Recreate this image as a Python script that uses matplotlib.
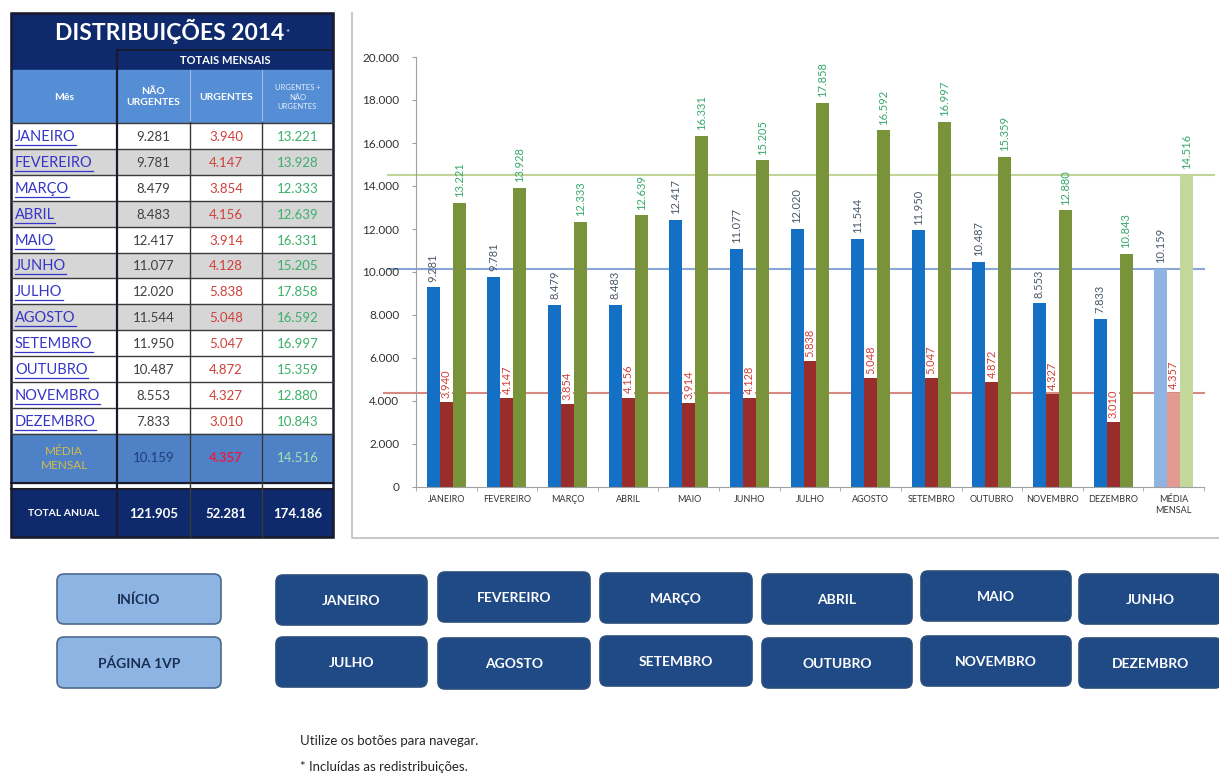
import matplotlib
matplotlib.use("Agg")
import matplotlib.pyplot as plt
import matplotlib.ticker as mticker
from matplotlib.patches import Rectangle, FancyBboxPatch
import numpy as np

plt.rcParams["font.family"] = ["Lato", "DejaVu Sans"]

# ---- data ----
MONTHS = ["JANEIRO", "FEVEREIRO", "MARÇO", "ABRIL", "MAIO", "JUNHO",
          "JULHO", "AGOSTO", "SETEMBRO", "OUTUBRO", "NOVEMBRO", "DEZEMBRO"]
NAO_URGENTES = [9281, 9781, 8479, 8483, 12417, 11077, 12020, 11544, 11950, 10487, 8553, 7833]
URGENTES = [3940, 4147, 3854, 4156, 3914, 4128, 5838, 5048, 5047, 4872, 4327, 3010]
TOTAL = [13221, 13928, 12333, 12639, 16331, 15205, 17858, 16592, 16997, 15359, 12880, 10843]
MEDIA = [10159, 4357, 14516]
TOTAL_ANUAL = [121905, 52281, 174186]
GRAY_ROWS = ["FEVEREIRO", "ABRIL", "JUNHO", "AGOSTO"]

BUTTONS_ROW1 = ["JANEIRO", "FEVEREIRO", "MARÇO", "ABRIL", "MAIO", "JUNHO"]
BUTTONS_ROW2 = ["JULHO", "AGOSTO", "SETEMBRO", "OUTUBRO", "NOVEMBRO", "DEZEMBRO"]
NAV_BUTTONS = ["INÍCIO", "PÁGINA 1VP"]
NOTES = ["Utilize os botões para navegar.", "* Incluídas as redistribuições."]


def fmt(v):
    return f"{v:,.0f}".replace(",", ".")


W, H = 1219, 783
fig = plt.figure(figsize=(W / 100, H / 100), dpi=100)
fig.patch.set_facecolor("white")

# pixel-space canvas for table, buttons and notes
bg = fig.add_axes([0, 0, 1, 1])
bg.set_xlim(0, W)
bg.set_ylim(H, 0)
bg.axis("off")

NAVY = "#0e2a6c"
HEAD = "#558ed5"
LINE = "#3a3a3a"

# ---- table ----
cols = [11, 117, 190, 262, 333]
# title block
bg.add_patch(Rectangle((11, 13), 322, 57, color=NAVY))
bg.text(170, 31, "DISTRIBUIÇÕES 2014", color="white", fontsize=16.5, fontweight="bold",
        ha="center", va="center")
bg.text(285, 34, "*", color="white", fontsize=7, ha="left", va="center")
bg.plot([117, 333], [50, 50], color="#1a1a2a", lw=1.2)
bg.text(225, 60, "TOTAIS MENSAIS", color="white", fontsize=8, fontweight="bold",
        ha="center", va="center")
# header row
bg.add_patch(Rectangle((11, 70), 322, 52, color=HEAD))
hdr_x = [(cols[i] + cols[i + 1]) / 2 for i in range(4)]
bg.text(hdr_x[0], 97, "Mês", color="white", fontsize=7.5, fontweight="bold", ha="center", va="center")
bg.text(hdr_x[1], 97, "NÃO\nURGENTES", color="white", fontsize=7.5, fontweight="bold",
        ha="center", va="center", linespacing=1.3)
bg.text(hdr_x[2], 97, "URGENTES", color="white", fontsize=7.5, fontweight="bold", ha="center", va="center")
bg.text(hdr_x[3], 97, "URGENTES +\nNÃO\nURGENTES", color="#e8eef8", fontsize=5.5,
        ha="center", va="center", linespacing=1.4)
for x in cols[2:4]:
    bg.plot([x, x], [70, 122], color="#9fbce6", lw=0.8)

# month rows
y0, rh = 123, 25.9
month_texts = []
for i, m in enumerate(MONTHS):
    y = y0 + i * rh
    face = "#d6d6d6" if m in GRAY_ROWS else "white"
    bg.add_patch(Rectangle((11, y), 322, rh, facecolor=face, edgecolor="none"))
    t = bg.text(15, y + rh / 2 + 1, m, color="#3535c8", fontsize=10.5, ha="left", va="center")
    month_texts.append(t)
    bg.text(hdr_x[1], y + rh / 2 + 1, fmt(NAO_URGENTES[i]), color="#404040", fontsize=9.5,
            ha="center", va="center")
    bg.text(hdr_x[2], y + rh / 2 + 1, fmt(URGENTES[i]), color="#d0403a", fontsize=9.5,
            ha="center", va="center")
    bg.text(hdr_x[3], y + rh / 2 + 1, fmt(TOTAL[i]), color="#3cb06a", fontsize=9.5,
            ha="center", va="center")
    bg.plot([11, 333], [y, y], color=LINE, lw=1.0)
y_end = y0 + 12 * rh
bg.plot([11, 333], [y_end, y_end], color=LINE, lw=1.0)

# média mensal row
bg.add_patch(Rectangle((11, y_end), 322, 483 - y_end, color="#4f81c6"))
ym = (y_end + 483) / 2
bg.text(hdr_x[0], ym, "MÉDIA\nMENSAL", color="#d4bc4c", fontsize=8.5, ha="center", va="center",
        linespacing=1.4)
bg.text(hdr_x[1], ym, fmt(MEDIA[0]), color="#1f3f7a", fontsize=9.5, ha="center", va="center")
bg.text(hdr_x[2], ym, fmt(MEDIA[1]), color="#e0204a", fontsize=9.5, fontweight="bold",
        ha="center", va="center")
bg.text(hdr_x[3], ym, fmt(MEDIA[2]), color="#a8e0b0", fontsize=9.5, ha="center", va="center")
bg.plot([11, 333], [483, 483], color="#1a1a2a", lw=1.5)
bg.plot([11, 333], [489, 489], color="#1a1a2a", lw=1.5)

# total anual row
bg.add_patch(Rectangle((11, 490), 322, 47, color=NAVY))
bg.text(hdr_x[0], 514, "TOTAL ANUAL", color="white", fontsize=7.5, fontweight="bold",
        ha="center", va="center")
for j, v in enumerate(TOTAL_ANUAL):
    bg.text(hdr_x[j + 1], 514, fmt(v), color="white", fontsize=9.5, fontweight="bold",
            ha="center", va="center")

# vertical column lines
bg.plot([117, 117], [50, 537], color="#1a1a2a", lw=1.6)
for x in cols[2:4]:
    bg.plot([x, x], [122, 537], color=LINE, lw=1.0)
bg.add_patch(Rectangle((11, 13), 322, 524, fill=False, edgecolor="#1a1a2a", lw=1.8))

# ---- chart panel border ----
bg.plot([352, 352, W], [13, 538, 538], color="#bdbdbd", lw=1.2)

# ---- buttons ----
def button(x0, y0_, x1, y1, label, face, edge, tcolor):
    bg.add_patch(FancyBboxPatch((x0, y0_), x1 - x0, y1 - y0_,
                                boxstyle="round,pad=0,rounding_size=7",
                                facecolor=face, edgecolor=edge, lw=1.2))
    bg.text((x0 + x1) / 2, (y0_ + y1) / 2 + 1, label, color=tcolor, fontsize=10,
            fontweight="bold", ha="center", va="center")


button(57, 574, 221, 624, NAV_BUTTONS[0], "#8db4e2", "#4d6a8c", "#1a2f55")
button(57, 637, 221, 688, NAV_BUTTONS[1], "#8db4e2", "#4d6a8c", "#1a2f55")
bx = [(276, 427), (438, 590), (600, 752), (762, 912), (921, 1071), (1079, 1222)]
r1y = [(575, 625), (572, 622), (573, 623), (574, 624), (571, 621), (574, 624)]
r2y = [(637, 687), (638, 689), (636, 686), (638, 688), (636, 686), (638, 688)]
for k in range(6):
    button(bx[k][0], r1y[k][0], bx[k][1], r1y[k][1], BUTTONS_ROW1[k], "#1f4a86", "#2c4f7c", "white")
    button(bx[k][0], r2y[k][0], bx[k][1], r2y[k][1], BUTTONS_ROW2[k], "#1f4a86", "#2c4f7c", "white")

bg.text(300, 741, NOTES[0], color="#262626", fontsize=9.5, ha="left", va="center")
bg.text(300, 767, NOTES[1], color="#262626", fontsize=9.5, ha="left", va="center")

# ---- bar chart ----
ax = fig.add_axes([416 / W, 1 - 487 / H, 788 / W, 430 / H])
ax.set_facecolor("none")
x = np.arange(13)
bw = 0.214
blue = NAO_URGENTES + [MEDIA[0]]
red = URGENTES + [MEDIA[1]]
green = TOTAL + [MEDIA[2]]
bcol = ["#1470c4"] * 12 + ["#8fb4e3"]
rcol = ["#992d2b"] * 12 + ["#e39a92"]
gcol = ["#78933a"] * 12 + ["#c4d89c"]
ax.bar(x - bw, blue, bw, color=bcol, zorder=2)
ax.bar(x, red, bw, color=rcol, zorder=2)
ax.bar(x + bw, green, bw, color=gcol, zorder=2)

ax.axhline(MEDIA[2], xmin=-0.036, xmax=1.013, color="#c3d49a", lw=1.5, clip_on=False, zorder=1)
ax.axhline(MEDIA[0], xmin=-0.036, xmax=1.0, color="#8aa6d8", lw=1.5, clip_on=False, zorder=1)
ax.axhline(MEDIA[1], xmin=-0.04, xmax=1.0, color="#d88a82", lw=1.5, clip_on=False, zorder=1)

for i in range(13):
    ax.annotate(fmt(blue[i]), (x[i] - bw, blue[i]), xytext=(0, 4), textcoords="offset points",
                rotation=90, ha="center", va="bottom", fontsize=8, color="#4a5868", zorder=3)
    ax.annotate(fmt(red[i]), (x[i], red[i]), xytext=(0, 3), textcoords="offset points",
                rotation=90, ha="center", va="bottom", fontsize=8, color="#d0403a", zorder=4,
                bbox=dict(boxstyle="square,pad=0.02", fc="white", ec="none"))
    ax.annotate(fmt(green[i]), (x[i] + bw, green[i]), xytext=(0, 4), textcoords="offset points",
                rotation=90, ha="center", va="bottom", fontsize=8, color="#34a86a", zorder=3)

ax.set_xlim(-0.5, 12.5)
ax.set_ylim(0, 20000)
ax.set_yticks(range(0, 20001, 2000))
ax.yaxis.set_major_formatter(mticker.FuncFormatter(lambda v, p: fmt(v)))
ax.set_xticks(x)
ax.set_xticklabels(MONTHS + ["MÉDIA\nMENSAL"], fontsize=6.5, color="#333333")
ax.xaxis.set_minor_locator(mticker.FixedLocator(np.arange(-0.5, 13, 1)))
ax.tick_params(axis="x", which="major", length=0, pad=6)
ax.tick_params(axis="x", which="minor", length=3, color="#a0a0a0")
ax.tick_params(axis="y", labelsize=8.5, labelcolor="#333333", length=3, color="#a0a0a0", pad=9)
for s in ["top", "right"]:
    ax.spines[s].set_visible(False)
ax.spines["left"].set_color("#a0a0a0")
ax.spines["bottom"].set_color("#a0a0a0")

# underline month hyperlinks
fig.canvas.draw()
r = fig.canvas.get_renderer()
inv = bg.transData.inverted()
for t in month_texts:
    bb = t.get_window_extent(renderer=r)
    (xa, ya), (xb, yb) = inv.transform([(bb.x0, bb.y0), (bb.x1, bb.y1)])
    bg.plot([xa, xb], [ya + 1, ya + 1], color="#3535c8", lw=0.9)

fig.savefig("out.png", dpi=100, facecolor="white")
